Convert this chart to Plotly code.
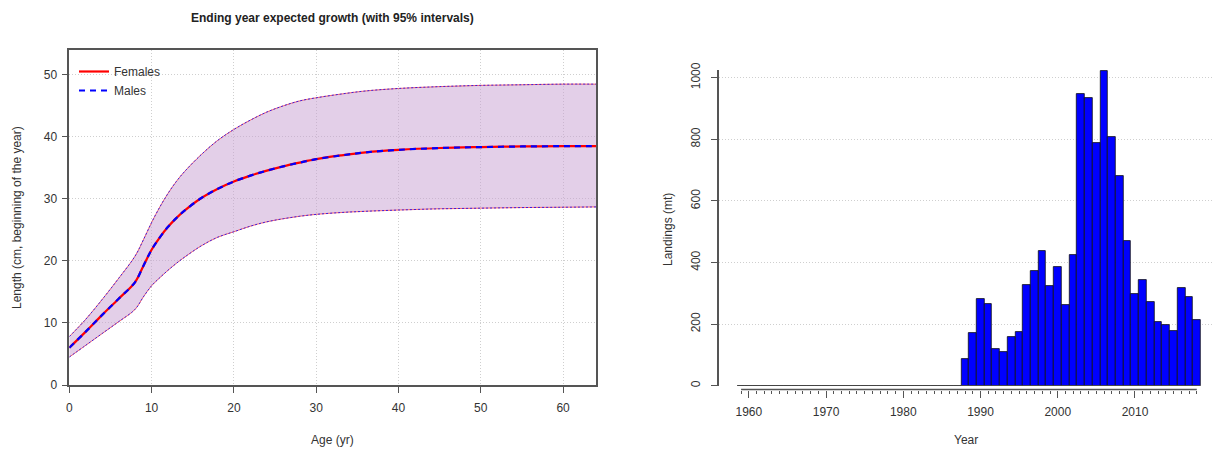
import plotly.graph_objects as go

# ---------------- data: growth curve ----------------
ages = [0, 2, 4, 6, 8, 9, 10, 11, 12, 13, 14, 16, 18, 20, 22, 24, 26, 28, 30,
        33, 36, 40, 45, 50, 55, 60, 64]
mean_len = [6.0, 8.6, 11.3, 13.9, 16.6, 19.2, 21.8, 23.8, 25.5, 26.9, 28.1, 30.1,
            31.6, 32.8, 33.75, 34.55, 35.25, 35.85, 36.4, 37.0, 37.5, 37.9, 38.2, 38.35,
            38.45, 38.5, 38.5]
upper_len = [7.8, 10.6, 13.8, 17.2, 20.8, 23.4, 26.2, 28.7, 30.9, 32.8, 34.4, 37.1,
             39.4, 41.2, 42.7, 44.0, 45.0, 45.8, 46.3, 46.9, 47.4, 47.8, 48.1, 48.3,
             48.4, 48.5, 48.5]
lower_len = [4.5, 6.4, 8.3, 10.2, 12.2, 14.2, 16.0, 17.3, 18.5, 19.6, 20.6, 22.4,
             23.8, 24.7, 25.6, 26.3, 26.8, 27.2, 27.5, 27.8, 28.0, 28.2, 28.4, 28.5,
             28.6, 28.65, 28.7]
age_ticks = [0, 10, 20, 30, 40, 50, 60]
len_ticks = [0, 10, 20, 30, 40, 50]

# ---------------- data: landings ----------------
years = list(range(1959, 2019))
landings = [0] * 29 + [86, 171, 282, 265, 120, 108, 158, 173, 327, 372, 437, 325,
                       386, 262, 424, 946, 935, 789, 1023, 806, 681, 469, 297, 342,
                       273, 207, 196, 176, 317, 288, 213]
year_ticks = [1960, 1970, 1980, 1990, 2000, 2010]
land_ticks = [0, 200, 400, 600, 800, 1000]

W, H = 1213, 450
FONT = "Liberation Sans, Arial, sans-serif"
TXT = "#333333"
AX = "#555555"
GRID = "#cfcfcf"


def px(x):
    return x / W


def py(y):
    return 1 - y / H


fig = go.Figure()

# band
fig.add_trace(go.Scatter(x=ages, y=lower_len, mode="lines", line=dict(width=0, shape="spline"),
                         showlegend=False, hoverinfo="skip", xaxis="x", yaxis="y"))
fig.add_trace(go.Scatter(x=ages, y=upper_len, mode="lines", line=dict(width=0, shape="spline"),
                         fill="tonexty", fillcolor="rgba(200,160,210,0.5)",
                         showlegend=False, hoverinfo="skip", xaxis="x", yaxis="y"))
# bound lines (red + blue dotted overlaid)
for ys in (upper_len, lower_len):
    fig.add_trace(go.Scatter(x=ages, y=ys, mode="lines", line=dict(color="rgba(255,0,0,0.55)", width=1, shape="spline"),
                             showlegend=False, hoverinfo="skip", xaxis="x", yaxis="y"))
    fig.add_trace(go.Scatter(x=ages, y=ys, mode="lines", line=dict(color="rgba(0,0,255,0.75)", width=1, dash="2px,2px", shape="spline"),
                             showlegend=False, hoverinfo="skip", xaxis="x", yaxis="y"))
# mean lines
fig.add_trace(go.Scatter(x=ages, y=mean_len, mode="lines", name="Females",
                         line=dict(color="#ff0000", width=2.2, shape="spline"), xaxis="x", yaxis="y"))
fig.add_trace(go.Scatter(x=ages, y=mean_len, mode="lines", name="Males",
                         line=dict(color="#0000ff", width=2.2, dash="6px,5px", shape="spline"), xaxis="x", yaxis="y"))

# baseline for zero bars
fig.add_trace(go.Scatter(x=[years[0] - 0.5, years[-1] + 0.5], y=[0, 0], mode="lines",
                         line=dict(color="#444444", width=1.5), showlegend=False,
                         hoverinfo="skip", xaxis="x2", yaxis="y2"))
# landings bars
fig.add_trace(go.Bar(x=years, y=landings, width=1, marker=dict(color="#0000ff", line=dict(color="#111111", width=0.8)),
                     showlegend=False, xaxis="x2", yaxis="y2"))

L_x0, L_x1, L_y0, L_y1 = 69.3, 596, 50, 385
R_x0, R_y0, R_y1 = 718.7, 70, 385.7

axis_common = dict(ticks="outside", tickcolor=AX, tickfont=dict(family=FONT, size=12, color=TXT),
                   gridcolor=GRID, griddash="1px,2px", gridwidth=1, zeroline=False, automargin=False)

fig.update_layout(
    width=W, height=H,
    margin=dict(l=0, r=0, t=0, b=0, autoexpand=False),
    paper_bgcolor="white", plot_bgcolor="white",
    font=dict(family=FONT, size=12, color=TXT),
    xaxis=dict(domain=[px(L_x0), px(L_x1)], range=[0, 64], tickvals=age_ticks,
               showline=True, mirror=True, linecolor=AX, linewidth=1.5, ticklen=6,
               ticklabelstandoff=5, anchor="y", **axis_common),
    yaxis=dict(domain=[py(L_y1), py(L_y0)], range=[0, 54], tickvals=len_ticks,
               showline=True, mirror=True, linecolor=AX, linewidth=1.5, ticklen=6,
               ticklabelstandoff=2, anchor="x", **axis_common),
    xaxis2=dict(domain=[px(R_x0), 1.0], range=[1956.1, 2020.1], tickvals=year_ticks,
                showline=False, showgrid=False, ticklen=7, anchor="free", position=py(389.5),
                minor=dict(tickvals=years, ticklen=3, ticks="outside", tickcolor=AX, showgrid=False),
                ticks="outside", tickcolor=AX, tickfont=dict(family=FONT, size=12, color=TXT),
                ticklabelstandoff=4, zeroline=False, automargin=False),
    yaxis2=dict(domain=[py(R_y1), py(R_y0)], range=[0, 1025], tickvals=land_ticks,
                showline=True, linecolor=AX, linewidth=1.5, ticklen=6, tickangle=-90,
                ticklabelstandoff=6, anchor="x2", **axis_common),
    legend=dict(x=px(74), y=py(57), xanchor="left", yanchor="top", bgcolor="rgba(0,0,0,0)",
                traceorder="normal",
                font=dict(family=FONT, size=12, color=TXT), tracegroupgap=0, itemwidth=30),
    bargap=0,
    shapes=[dict(type="line", xref="x2", yref="paper", x0=years[0], x1=years[-1],
                 y0=py(389.5), y1=py(389.5), line=dict(color=AX, width=1.5))],
    annotations=[
        dict(text="<b>Ending year expected growth (with 95% intervals)</b>", x=px(332), y=py(18),
             xref="paper", yref="paper", xanchor="center", yanchor="middle", showarrow=False,
             font=dict(family=FONT, size=12, color="#222")),
        dict(text="Age (yr)", x=px(332), y=py(440), xref="paper", yref="paper",
             xanchor="center", yanchor="middle",
             showarrow=False, font=dict(family=FONT, size=12, color=TXT)),
        dict(text="Length (cm, beginning of the year)", x=px(17), y=py(218), xref="paper", yref="paper",
             xanchor="center", yanchor="middle", showarrow=False, textangle=-90,
             font=dict(family=FONT, size=12, color=TXT)),
        dict(text="Year", x=px(966), y=py(440), xref="paper", yref="paper",
             xanchor="center", yanchor="middle",
             showarrow=False, font=dict(family=FONT, size=12, color=TXT)),
        dict(text="Landings (mt)", x=px(668), y=py(230), xref="paper", yref="paper",
             xanchor="center", yanchor="middle", showarrow=False, textangle=-90,
             font=dict(family=FONT, size=12, color=TXT)),
    ],
)

fig.write_html("out.html", config={"displayModeBar": False},
               post_script="document.body.style.margin='0';document.body.style.padding='0';")
